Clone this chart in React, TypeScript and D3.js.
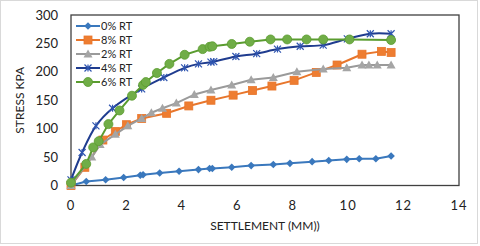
import * as React from 'react';
import { useRef, useEffect } from 'react';
import * as d3 from 'd3';

// settlement (mm) / stress (kPa)
const rt0X = [0, 0.55, 1.25, 1.9, 2.5, 2.6, 3.2, 3.9, 4.6, 5.0, 5.1, 5.8, 6.5, 7.3, 7.9, 8.7, 9.3, 9.95, 10.4, 11.0, 11.55];
const rt0Y = [0, 7, 10, 14, 18, 19, 22, 25, 28, 30, 30, 32, 35, 37, 39, 42, 44, 46, 47, 47, 52];
const rt8X = [0, 0.5, 1.15, 1.6, 2.0, 2.55, 3.45, 4.25, 5.05, 5.85, 6.55, 7.25, 8.05, 8.85, 9.6, 10.5, 11.2, 11.55];
const rt8Y = [0, 32, 80, 95, 107, 118, 127, 140, 150, 159, 167, 175, 185, 199, 212, 231, 236, 234];
const rt2X = [0, 0.75, 1.05, 1.6, 2.05, 2.55, 2.9, 3.3, 3.8, 4.45, 5.05, 5.8, 6.5, 7.3, 8.15, 9.1, 9.95, 10.5, 10.75, 11.05, 11.55];
const rt2Y = [0, 50, 72, 90, 105, 118, 128, 136, 145, 160, 168, 177, 186, 190, 200, 205, 207, 212, 212, 212, 212];
const rt4X = [0, 0.4, 0.9, 1.5, 2.55, 3.35, 4.1, 4.6, 5.05, 5.15, 5.95, 6.7, 7.45, 8.27, 9.1, 9.97, 10.8, 11.55];
const rt4Y = [10, 58, 105, 136, 170, 190, 207, 214, 217, 218, 227, 232, 240, 245, 247, 258, 267, 267];
const rt6X = [0, 0.55, 0.8, 1.0, 1.35, 1.75, 2.2, 2.6, 2.7, 3.1, 3.55, 4.1, 4.75, 5.0, 5.1, 5.8, 6.45, 7.2, 7.8, 8.5, 9.1, 10.05, 11.55];
const rt6Y = [5, 38, 67, 78, 108, 132, 158, 177, 182, 198, 214, 230, 240, 244, 245, 249, 253, 257, 257, 257, 257, 257, 256];

const xTicks = [0, 2, 4, 6, 8, 10, 12, 14];
const yTicks = [0, 50, 100, 150, 200, 250, 300];

type Pt = { x: number; y: number };
type Marker = 'diamond' | 'square' | 'triangle' | 'star' | 'circle';

const series = [
  { name: '0% RT', xs: rt0X, ys: rt0Y, color: '#3a78bd', fill: '#3a78bd', marker: 'diamond' as Marker, smooth: false },
  { name: '8% RT', xs: rt8X, ys: rt8Y, color: '#e8762c', fill: '#ee7d31', marker: 'square' as Marker, smooth: false },
  { name: '2% RT', xs: rt2X, ys: rt2Y, color: '#9a9a9a', fill: '#a5a5a5', marker: 'triangle' as Marker, smooth: false },
  { name: '4% RT', xs: rt4X, ys: rt4Y, color: '#1f3c8f', fill: '#2f55b0', marker: 'star' as Marker, smooth: true },
  { name: '6% RT', xs: rt6X, ys: rt6Y, color: '#5a9c2f', fill: '#70ad47', marker: 'circle' as Marker, smooth: false },
];

const width = 480;
const height = 246;
const margin = { top: 15, right: 21, bottom: 60, left: 71 };
const font = 'Lato, "Open Sans", sans-serif';

function drawMarker(g: d3.Selection<SVGGElement, unknown, null, undefined>, kind: Marker, x: number, y: number, color: string, fill: string) {
  if (kind === 'circle') {
    g.append('circle').attr('cx', x).attr('cy', y).attr('r', 4.5).attr('fill', fill).attr('stroke', color).attr('stroke-width', 0.8);
  } else if (kind === 'square') {
    g.append('rect').attr('x', x - 4).attr('y', y - 4).attr('width', 8).attr('height', 8).attr('fill', fill).attr('stroke', color).attr('stroke-width', 0.8);
  } else if (kind === 'triangle') {
    g.append('path').attr('d', `M${x},${y - 4.5}L${x + 4.5},${y + 3.5}L${x - 4.5},${y + 3.5}Z`).attr('fill', fill);
  } else if (kind === 'diamond') {
    g.append('path').attr('d', `M${x},${y - 3.8}L${x + 3.8},${y}L${x},${y + 3.8}L${x - 3.8},${y}Z`).attr('fill', fill);
  } else {
    const r = 3.5;
    g.append('path')
      .attr('d', `M${x - r},${y - r}L${x + r},${y + r}M${x - r},${y + r}L${x + r},${y - r}M${x},${y - r}L${x},${y + r}`)
      .attr('stroke', fill).attr('stroke-width', 1.2).attr('fill', 'none');
  }
}

export default function App() {
  const svgRef = useRef<SVGSVGElement>(null);

  useEffect(() => {
    if (!svgRef.current) return;
    const svg = d3.select(svgRef.current);
    svg.selectAll('*').remove();

    const xScale = d3.scaleLinear().domain([0, 14]).range([margin.left, width - margin.right]);
    const yScale = d3.scaleLinear().domain([0, 300]).range([height - margin.bottom - 0.5, margin.top]);

    // chart border
    svg.append('rect')
      .attr('x', 0.5).attr('y', 0.5).attr('width', width - 3).attr('height', height - 3)
      .attr('fill', '#fff').attr('stroke', '#d9d9d9');

    // plot area border
    svg.append('rect')
      .attr('x', xScale(0)).attr('y', yScale(300))
      .attr('width', xScale(14) - xScale(0)).attr('height', yScale(0) - yScale(300))
      .attr('fill', 'none').attr('stroke', '#404040').attr('stroke-width', 1.3);

    svg.append('g')
      .selectAll('text')
      .data(yTicks)
      .join('text')
      .attr('x', margin.left - 13)
      .attr('y', (d) => yScale(d) + 4.5)
      .attr('text-anchor', 'end')
      .attr('font-size', 13)
      .attr('fill', '#222')
      .text((d) => d);

    svg.append('g')
      .selectAll('text')
      .data(xTicks)
      .join('text')
      .attr('x', (d) => xScale(d))
      .attr('y', yScale(0) + 24)
      .attr('text-anchor', 'middle')
      .attr('font-size', 13)
      .attr('letter-spacing', 1)
      .attr('fill', '#222')
      .text((d) => d);

    svg.append('text')
      .attr('x', 265).attr('y', 230)
      .attr('text-anchor', 'middle').attr('font-size', 12).attr('fill', '#222')
      .text('SETTLEMENT (MM))');

    svg.append('text')
      .attr('transform', `translate(24,${(yScale(0) + yScale(300)) / 2}) rotate(-90)`)
      .attr('text-anchor', 'middle').attr('font-size', 12).attr('fill', '#222')
      .text('STRESS KPA');

    series.forEach((s) => {
      const pts: Pt[] = s.xs.map((x, i) => ({ x, y: s.ys[i] }));
      const line = d3.line<Pt>()
        .x((d) => xScale(d.x))
        .y((d) => yScale(d.y))
        .curve(s.smooth ? d3.curveCatmullRom.alpha(0.5) : d3.curveLinear);
      const g = svg.append('g');
      g.append('path')
        .datum(pts)
        .attr('fill', 'none')
        .attr('stroke', s.color)
        .attr('stroke-width', 2)
        .attr('stroke-linejoin', 'round')
        .attr('d', line);
      pts.forEach((p) => drawMarker(g, s.marker, xScale(p.x), yScale(p.y), s.color, s.fill));
    });

    // legend
    const legend = svg.append('g');
    series.forEach((s, i) => {
      const y = 26 + i * 14;
      legend.append('line')
        .attr('x1', 76).attr('x2', 100).attr('y1', y).attr('y2', y)
        .attr('stroke', s.color).attr('stroke-width', 2);
      drawMarker(legend, s.marker, 88, y, s.color, s.fill);
      legend.append('text')
        .attr('x', 101).attr('y', y + 4)
        .attr('font-size', 11).attr('fill', '#222')
        .text(s.name);
    });
  }, []);

  return (
    <svg
      ref={svgRef}
      width={width}
      height={height}
      style={{ position: 'absolute', left: 0, top: 0, fontFamily: font, background: '#fff' }}
    />
  );
}
